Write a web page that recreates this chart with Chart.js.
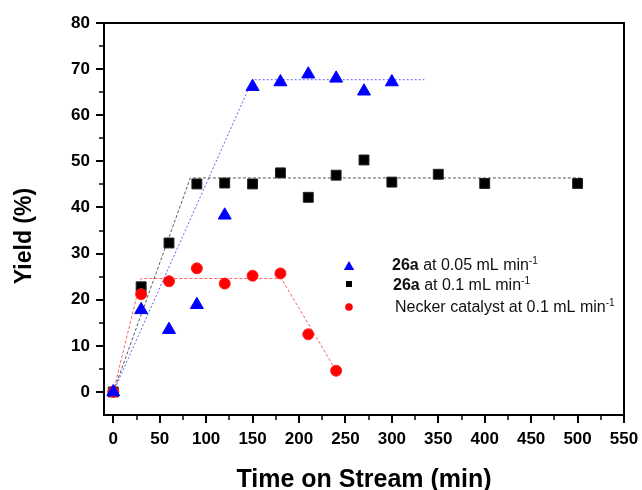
<!DOCTYPE html>
<html>
<head>
<meta charset="utf-8">
<script src="https://cdn.jsdelivr.net/npm/chart.js@4.4.1/dist/chart.umd.min.js"></script>
<style>
html, body { margin: 0; padding: 0; background: #fff; }
#yieldChart { display: block; }
</style>
</head>
<body>
<canvas id="yieldChart" width="642" height="490"></canvas>
<script>
// ---------- Data ----------
// 26a at 0.05 mL/min (blue triangles)
var blueTime = [0, 30, 60, 90, 120, 150, 180, 210, 240, 270, 300];
var blueYield = [0, 17.8, 13.5, 18.9, 38.3, 66.2, 67.2, 68.9, 68.0, 65.2, 67.2];

// 26a at 0.1 mL/min (black squares)
var blackTime = [0, 30, 60, 90, 120, 150, 180, 210, 240, 270, 300, 350, 400, 500];
var blackYield = [0, 22.8, 32.3, 45.1, 45.3, 45.1, 47.5, 42.2, 47.0, 50.3, 45.5, 47.2, 45.2, 45.2];

// Necker catalyst at 0.1 mL/min (red circles)
var redTime = [0, 30, 60, 90, 120, 150, 180, 210, 240];
var redYield = [0, 21.2, 24.0, 26.8, 23.5, 25.2, 25.7, 12.5, 4.6];

// dashed guide lines
var blueFitTime = [0, 150, 335];
var blueFitYield = [0, 67.7, 67.7];
var blackFitTime = [0, 83, 504];
var blackFitYield = [0, 46.4, 46.4];
var redFitTime = [0, 30, 181, 240];
var redFitYield = [0, 24.6, 24.6, 4.6];

// axis ticks
var xTicks = [0, 50, 100, 150, 200, 250, 300, 350, 400, 450, 500, 550];
var xMinorTicks = [25, 75, 125, 175, 225, 275, 325, 375, 425, 475, 525];
var yTicks = [0, 10, 20, 30, 40, 50, 60, 70, 80];
var yMinorTicks = [5, 15, 25, 35, 45, 55, 65, 75];

var xTitle = 'Time on Stream (min)';
var yTitle = 'Yield (%)';

var legendItems = [
	{ style: 'triangle', color: '#0000ff', bold: '26a', text: ' at 0.05 mL min', sup: '-1' },
	{ style: 'rect', color: '#000000', bold: '26a', text: ' at 0.1 mL min', sup: '-1' },
	{ style: 'circle', color: '#ff0000', bold: '', text: 'Necker catalyst at 0.1 mL min', sup: '-1' }
];

var FONT = "'Liberation Sans', Arial, sans-serif";

function pairs(xs, ys) {
	return xs.map(function (x, i) { return { x: x, y: ys[i] }; });
}

// ---------- helpers ----------
function drawMarker(ctx, style, color, x, y, r) {
	ctx.save();
	ctx.fillStyle = color;
	ctx.beginPath();
	if (style === 'triangle') {
		ctx.moveTo(x, y - r);
		ctx.lineTo(x + 0.866 * r, y + 0.5 * r);
		ctx.lineTo(x - 0.866 * r, y + 0.5 * r);
		ctx.closePath();
	} else if (style === 'rect') {
		ctx.rect(x - r, y - r, 2 * r, 2 * r);
	} else {
		ctx.arc(x, y, r, 0, Math.PI * 2);
	}
	ctx.fill();
	ctx.restore();
}

// frame, tick marks, axis titles and legend
var framePlugin = {
	id: 'originFrame',
	beforeDatasetsDraw: function (chart) {
		var ctx = chart.ctx;
		var a = chart.chartArea;
		var xs = chart.scales.x;
		var ys = chart.scales.y;
		ctx.save();
		ctx.strokeStyle = '#000';
		ctx.lineWidth = 2;
		ctx.strokeRect(a.left, a.top, a.right - a.left, a.bottom - a.top);

		ctx.beginPath();
		yTicks.forEach(function (v) {
			var p = Math.round(ys.getPixelForValue(v));
			ctx.moveTo(a.left - 8, p);
			ctx.lineTo(a.left, p);
		});
		xTicks.forEach(function (v) {
			var p = Math.round(xs.getPixelForValue(v));
			ctx.moveTo(p, a.bottom);
			ctx.lineTo(p, a.bottom + 8);
		});
		ctx.stroke();

		ctx.lineWidth = 1.5;
		ctx.beginPath();
		yMinorTicks.forEach(function (v) {
			var p = Math.round(ys.getPixelForValue(v));
			ctx.moveTo(a.left - 5, p);
			ctx.lineTo(a.left, p);
		});
		xMinorTicks.forEach(function (v) {
			var p = Math.round(xs.getPixelForValue(v));
			ctx.moveTo(p, a.bottom);
			ctx.lineTo(p, a.bottom + 5);
		});
		ctx.stroke();
		ctx.restore();
	},
	afterDraw: function (chart) {
		var ctx = chart.ctx;
		var a = chart.chartArea;
		ctx.save();
		ctx.fillStyle = '#000';

		// axis titles
		ctx.font = 'bold 25px ' + FONT;
		ctx.textAlign = 'center';
		ctx.textBaseline = 'alphabetic';
		ctx.fillText(xTitle, (a.left + a.right) / 2, 487);

		ctx.save();
		ctx.translate(31, 236);
		ctx.rotate(-Math.PI / 2);
		ctx.font = 'bold 23px ' + FONT;
		ctx.fillText(yTitle, 0, 0);
		ctx.restore();

		// legend
		ctx.textAlign = 'left';
		var baselines = [270, 290, 312];
		var markerY = [267, 284, 307];
		var textX = [392, 393, 395];
		var markerR = { triangle: 6, rect: 3, circle: 3.8 };
		legendItems.forEach(function (item, i) {
			drawMarker(ctx, item.style, item.color, 349, markerY[i], markerR[item.style]);
			var x = textX[i];
			ctx.fillStyle = '#111';
			if (item.bold) {
				ctx.font = 'bold 16px ' + FONT;
				ctx.fillText(item.bold, x, baselines[i]);
				x += ctx.measureText(item.bold).width;
			}
			ctx.font = '16px ' + FONT;
			ctx.fillText(item.text, x, baselines[i]);
			x += ctx.measureText(item.text).width;
			ctx.font = '10px ' + FONT;
			ctx.fillText(item.sup, x, baselines[i] - 6.5);
		});
		ctx.restore();
	}
};

function fitLine(xs, ys, color, dash) {
	return {
		data: pairs(xs, ys),
		showLine: true,
		borderColor: color,
		borderWidth: 1,
		borderDash: dash,
		pointRadius: 0,
		fill: false,
		order: 10
	};
}

Chart.defaults.font.family = FONT;

new Chart(document.getElementById('yieldChart'), {
	type: 'scatter',
	data: {
		datasets: [
			fitLine(blueFitTime, blueFitYield, 'rgba(60,60,255,0.8)', [2, 2]),
			fitLine(blackFitTime, blackFitYield, 'rgba(60,60,60,0.85)', [3, 2]),
			fitLine(redFitTime, redFitYield, 'rgba(255,70,70,0.85)', [3, 2]),
			{
				data: pairs(blackTime, blackYield),
				pointStyle: 'rect',
				pointRadius: 7,
				borderWidth: 1,
				backgroundColor: '#000',
				borderColor: '#222',
				order: 3
			},
			{
				data: pairs(redTime, redYield),
				pointStyle: 'circle',
				pointRadius: 5.5,
				borderWidth: 1,
				backgroundColor: '#ff0000',
				borderColor: '#ff2020',
				order: 2
			},
			{
				data: pairs(blueTime, blueYield),
				pointStyle: 'triangle',
				pointRadius: 7.5,
				borderWidth: 1,
				backgroundColor: '#0000ff',
				borderColor: '#0000ff',
				order: 1
			}
		]
	},
	options: {
		responsive: false,
		animation: false,
		layout: { padding: { top: 23, right: 18, left: 0, bottom: 0 } },
		plugins: {
			legend: { display: false },
			tooltip: { enabled: false }
		},
		scales: {
			x: {
				type: 'linear',
				min: -10,
				max: 550,
				grid: { display: false, drawTicks: false },
				border: { display: false },
				afterFit: function (scale) {
					scale.height = 75;
					scale.paddingLeft = 0;
					scale.paddingRight = 0;
				},
				afterBuildTicks: function (scale) {
					scale.ticks = xTicks.map(function (v) { return { value: v }; });
				},
				ticks: {
					autoSkip: false,
					maxRotation: 0,
					padding: 14,
					color: '#000',
					font: { size: 17, weight: 'bold' }
				}
			},
			y: {
				type: 'linear',
				min: -5,
				max: 80,
				grid: { display: false, drawTicks: false },
				border: { display: false },
				afterFit: function (scale) {
					scale.width = 104;
					scale.paddingTop = 0;
					scale.paddingBottom = 0;
				},
				afterBuildTicks: function (scale) {
					scale.ticks = yTicks.map(function (v) { return { value: v }; });
				},
				ticks: {
					autoSkip: false,
					padding: 14,
					color: '#000',
					font: { size: 17, weight: 'bold' }
				}
			}
		}
	},
	plugins: [framePlugin]
});
</script>
</body>
</html>
